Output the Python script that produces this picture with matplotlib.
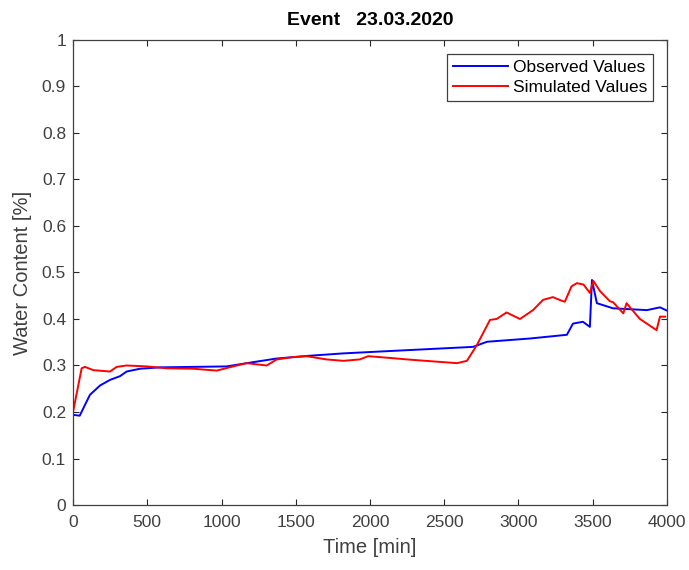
import numpy as np
import matplotlib
matplotlib.use("Agg")
import matplotlib.pyplot as plt

plt.rcParams['font.family'] = ['Liberation Sans', 'DejaVu Sans']

# observed values (blue)
t_obs = [0, 45, 80, 114, 182, 249, 316, 361, 451, 586, 810, 1035, 1170, 1372, 1596, 1820,
         2067, 2694, 2788, 3077, 3326, 3367, 3434, 3481, 3495, 3528, 3636, 3865, 3953, 4000]
w_obs = [0.194, 0.192, 0.215, 0.237, 0.257, 0.269, 0.277, 0.287, 0.293, 0.296, 0.297, 0.298,
         0.305, 0.315, 0.321, 0.326, 0.330, 0.340, 0.351, 0.358, 0.366, 0.390, 0.394, 0.383,
         0.484, 0.434, 0.423, 0.419, 0.425, 0.418]

# simulated values (red)
t_sim = [0, 58, 80, 137, 249, 294, 361, 496, 631, 810, 968, 1078, 1170, 1304, 1372, 1482,
         1573, 1708, 1820, 1931, 1988, 2067, 2290, 2586, 2653, 2720, 2808, 2853, 2920, 3010,
         3098, 3165, 3232, 3277, 3312, 3357, 3393, 3438, 3481, 3504, 3549, 3616, 3638, 3706,
         3728, 3751, 3818, 3930, 3953, 3988]
w_sim = [0.200, 0.294, 0.297, 0.290, 0.287, 0.297, 0.300, 0.298, 0.294, 0.293, 0.289, 0.298,
         0.305, 0.300, 0.313, 0.318, 0.320, 0.313, 0.310, 0.313, 0.320, 0.318, 0.312, 0.305,
         0.310, 0.344, 0.398, 0.400, 0.414, 0.400, 0.419, 0.441, 0.447, 0.441, 0.437, 0.470,
         0.477, 0.474, 0.456, 0.482, 0.460, 0.438, 0.436, 0.412, 0.434, 0.425, 0.400, 0.376,
         0.405, 0.405]

fig = plt.figure(figsize=(6.89, 5.70), dpi=100)
ax = fig.add_axes([0.106, 0.114, 0.862, 0.816])

ax.plot(t_obs, w_obs, color='#0000ff', lw=1.4, label='Observed Values')
ax.plot(t_sim, w_sim, color='#ff0000', lw=1.4, label='Simulated Values')

ax.set_xlim(0, 4000)
ax.set_ylim(0, 1)
ax.set_xticks(np.arange(0, 4001, 500))
ax.set_yticks(np.arange(0, 1.01, 0.1))
ax.set_yticklabels(['0', '0.1', '0.2', '0.3', '0.4', '0.5', '0.6', '0.7', '0.8', '0.9', '1'])
ax.tick_params(direction='in', top=True, right=True, labelsize=12.5, colors='#262626',
               labelcolor='#404040', length=4)
ax.tick_params(axis='x', pad=7)
ax.tick_params(axis='y', pad=5)
for s in ax.spines.values():
    s.set_color('#404040')
    s.set_linewidth(0.9)

ax.set_xlabel('Time [min]', fontsize=14.5, color='#404040', labelpad=6)
ax.set_ylabel('Water Content [%]', fontsize=14.5, color='#404040', labelpad=7)
ax.set_title('Event   23.03.2020', fontsize=14, fontweight='bold', pad=11)

leg = ax.legend(loc='upper right', fontsize=12.5, fancybox=False, edgecolor='#404040',
                framealpha=1, handlelength=3.2, handletextpad=0.25, borderpad=0.35,
                labelspacing=0.3, borderaxespad=0.8)
leg.get_frame().set_linewidth(0.9)

fig.savefig('out.png', dpi=100)
